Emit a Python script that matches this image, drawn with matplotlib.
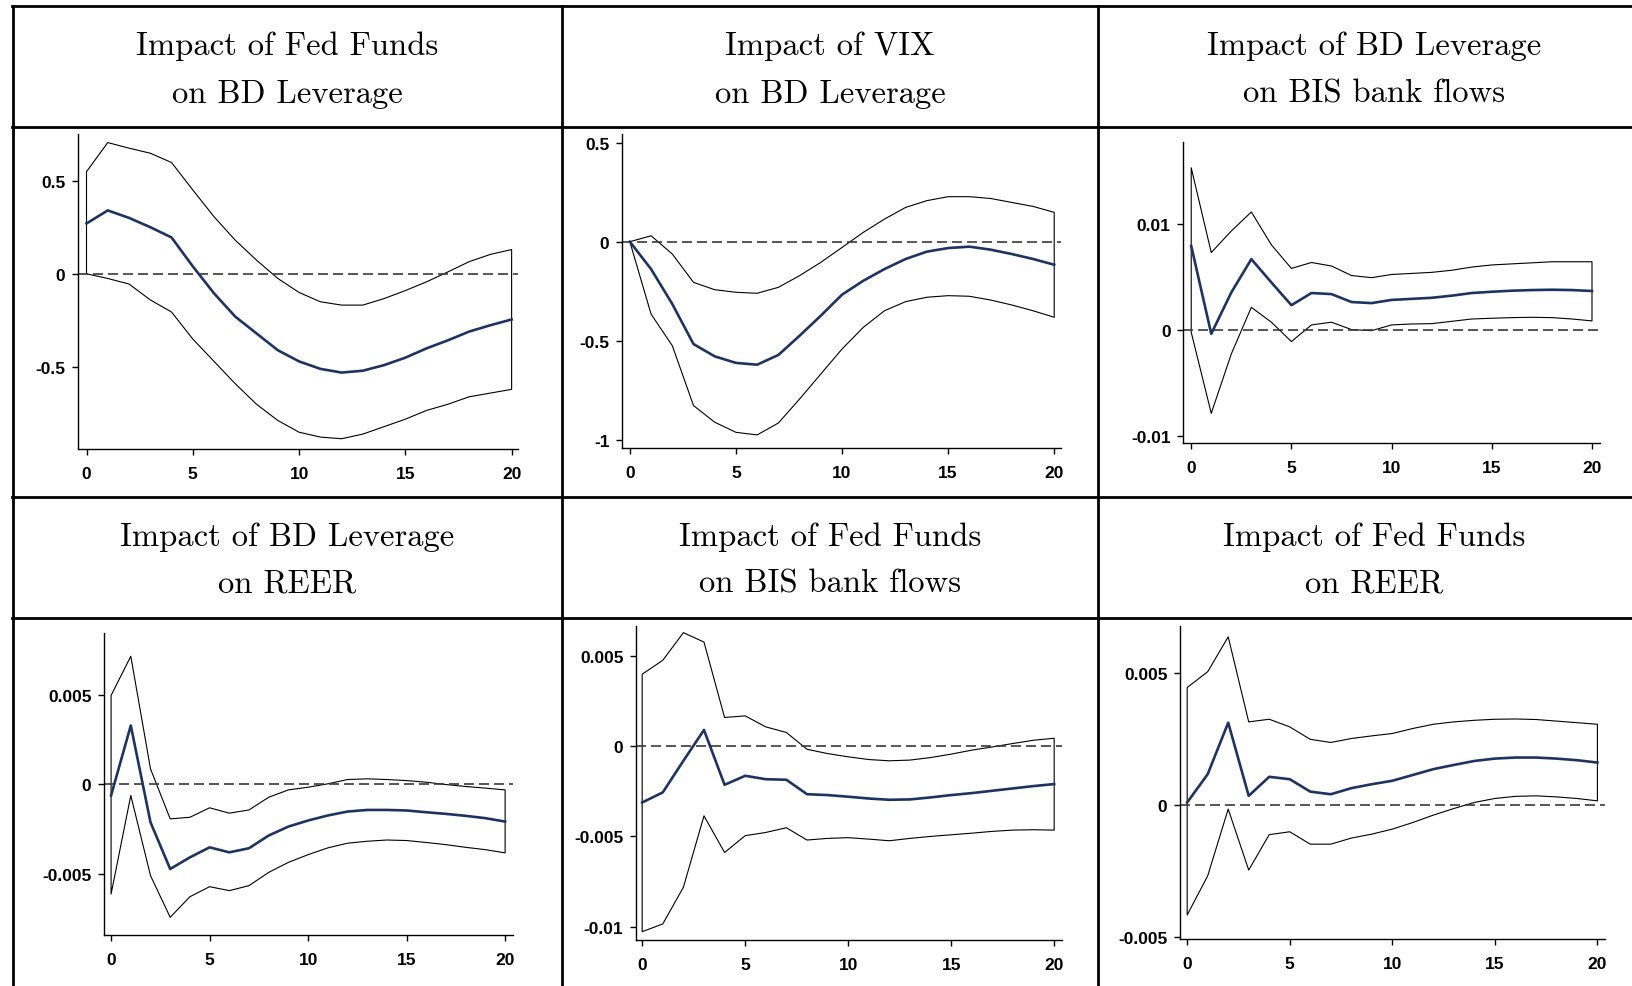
import numpy as np
import matplotlib.pyplot as plt
from matplotlib.lines import Line2D

W, H = 1632, 987
steps = np.arange(21)

# panel titles
titles = [
    "Impact of Fed Funds\non BD Leverage",
    "Impact of VIX\non BD Leverage",
    "Impact of BD Leverage\non BIS bank flows",
    "Impact of BD Leverage\non REER",
    "Impact of Fed Funds\non BIS bank flows",
    "Impact of Fed Funds\non REER",
]

# impulse responses (irf, upper band, lower band)
ff_bd_irf = [0.27, 0.34, 0.30, 0.25, 0.195, 0.04, -0.105, -0.23, -0.32, -0.41, -0.47,
             -0.51, -0.53, -0.52, -0.49, -0.45, -0.40, -0.357, -0.31, -0.276, -0.245]
ff_bd_hi = [0.548, 0.704, 0.674, 0.647, 0.597, 0.45, 0.306, 0.18, 0.073, -0.025, -0.10,
            -0.15, -0.168, -0.168, -0.133, -0.09, -0.043, 0.01, 0.065, 0.104, 0.13]
ff_bd_lo = [0.0, -0.025, -0.055, -0.14, -0.205, -0.35, -0.47, -0.59, -0.70, -0.787, -0.85,
            -0.876, -0.885, -0.86, -0.82, -0.78, -0.733, -0.70, -0.66, -0.64, -0.62]

vix_bd_irf = [0.0, -0.138, -0.314, -0.516, -0.578, -0.611, -0.62, -0.571, -0.474, -0.373, -0.267,
              -0.197, -0.138, -0.087, -0.05, -0.032, -0.025, -0.04, -0.062, -0.087, -0.116]
vix_bd_hi = [0.0, 0.03, -0.062, -0.205, -0.242, -0.255, -0.26, -0.23, -0.171, -0.104, -0.029,
             0.047, 0.114, 0.173, 0.207, 0.227, 0.227, 0.218, 0.198, 0.178, 0.148]
vix_bd_lo = [0.0, -0.365, -0.524, -0.826, -0.91, -0.961, -0.974, -0.914, -0.793, -0.667, -0.541,
             -0.432, -0.348, -0.302, -0.28, -0.272, -0.275, -0.294, -0.319, -0.348, -0.381]

bd_bis_irf = [0.0079, -0.0004, 0.0035, 0.00665, 0.00445, 0.0023, 0.00345, 0.00335, 0.0026, 0.0025, 0.0028,
              0.0029, 0.003, 0.0032, 0.00345, 0.00357, 0.00367, 0.00373, 0.00376, 0.00373, 0.00364]
bd_bis_hi = [0.01527, 0.00727, 0.0093, 0.0111, 0.008, 0.00577, 0.00633, 0.006, 0.0051, 0.0049, 0.0052,
             0.0053, 0.0054, 0.0056, 0.0059, 0.0061, 0.0062, 0.0063, 0.0064, 0.0064, 0.0064]
bd_bis_lo = [-0.00025, -0.0079, -0.0023, 0.0021, 0.0007, -0.00113, 0.00044, 0.0007, 0.0, -0.0001, 0.00044,
             0.00053, 0.00056, 0.00078, 0.001, 0.00107, 0.00113, 0.00116, 0.00113, 0.001, 0.00082]

bd_reer_irf = [-0.00063, 0.00328, -0.00213, -0.00474, -0.00409, -0.00353, -0.00381, -0.00358, -0.00287, -0.00237, -0.00203,
               -0.00175, -0.00153, -0.00144, -0.00144, -0.00147, -0.00157, -0.00166, -0.00177, -0.0019, -0.00209]
bd_reer_hi = [0.00496, 0.00715, 0.00086, -0.00194, -0.00185, -0.00132, -0.00162, -0.00144, -0.00073, -0.00032, -0.00017,
              0.00002, 0.00026, 0.0003, 0.00026, 0.0002, 0.00011, -0.00002, -0.00013, -0.00022, -0.00032]
bd_reer_lo = [-0.00614, -0.00063, -0.00511, -0.00744, -0.00629, -0.00573, -0.00595, -0.00567, -0.00493, -0.00437, -0.00394,
              -0.00356, -0.0033, -0.00319, -0.00312, -0.00315, -0.00326, -0.00338, -0.00353, -0.00366, -0.00384]

ff_bis_irf = [-0.00312, -0.00256, -0.00081, 0.0009, -0.00214, -0.00164, -0.00183, -0.00186, -0.00266, -0.00271, -0.0028,
              -0.0029, -0.00297, -0.00295, -0.00284, -0.00271, -0.0026, -0.00247, -0.00234, -0.00221, -0.0021]
ff_bis_hi = [0.00399, 0.00476, 0.00629, 0.00577, 0.00159, 0.00168, 0.00107, 0.00076, -0.00017, -0.00041, -0.00059,
             -0.00074, -0.00081, -0.00077, -0.00063, -0.00044, -0.00022, -0.00004, 0.00015, 0.00033, 0.00044]
ff_bis_lo = [-0.01028, -0.00985, -0.00782, -0.00386, -0.00589, -0.00496, -0.00478, -0.00452, -0.0052, -0.00511, -0.00507,
             -0.00515, -0.00524, -0.00511, -0.005, -0.00491, -0.00482, -0.00472, -0.00465, -0.00463, -0.00465]

ff_reer_irf = [0.00009, 0.00116, 0.00311, 0.00034, 0.00106, 0.00097, 0.0005, 0.0004, 0.00063, 0.00078, 0.00091,
               0.00113, 0.00135, 0.00151, 0.00166, 0.00175, 0.00179, 0.00179, 0.00175, 0.00169, 0.0016]
ff_reer_hi = [0.00444, 0.00504, 0.00636, 0.00314, 0.00324, 0.00295, 0.00248, 0.00236, 0.00251, 0.00261, 0.0027,
              0.00289, 0.00305, 0.00314, 0.0032, 0.00324, 0.00325, 0.00323, 0.00317, 0.00311, 0.00305]
ff_reer_lo = [-0.00417, -0.00269, -0.00016, -0.00247, -0.00113, -0.00102, -0.00149, -0.00149, -0.00126, -0.00111, -0.00092,
              -0.00067, -0.00039, -0.00014, 0.00009, 0.00024, 0.00032, 0.00034, 0.0003, 0.00024, 0.00015]

yticks = [[-0.5, 0, 0.5], [-1, -0.5, 0, 0.5], [-0.01, 0, 0.01],
          [-0.005, 0, 0.005], [-0.01, -0.005, 0, 0.005], [-0.005, 0, 0.005]]
yticklabels = [["-0.5", "0", "0.5"], ["-1", "-0.5", "0", "0.5"], ["-0.01", "0", "0.01"],
               ["-0.005", "0", "0.005"], ["-0.01", "-0.005", "0", "0.005"], ["-0.005", "0", "0.005"]]

series = [
    (ff_bd_irf, ff_bd_hi, ff_bd_lo),
    (vix_bd_irf, vix_bd_hi, vix_bd_lo),
    (bd_bis_irf, bd_bis_hi, bd_bis_lo),
    (bd_reer_irf, bd_reer_hi, bd_reer_lo),
    (ff_bis_irf, ff_bis_hi, ff_bis_lo),
    (ff_reer_irf, ff_reer_hi, ff_reer_lo),
]

# axes boxes in pixels: left, right, top, bottom
boxes = [(78, 518, 135, 450), (622, 1061, 135, 449), (1183, 1600, 143, 444),
         (104, 513, 634, 936), (636, 1062, 627, 941), (1180, 1605, 627, 940)]
xlims = [(-0.40, 20.3), (-0.37, 20.32), (-0.41, 20.4), (-0.36, 20.4), (-0.3, 20.38), (-0.35, 20.37)]
ylims = [(-0.94, 0.75), (-1.04, 0.543), (-0.0107, 0.0177), (-0.00843, 0.00845),
         (-0.01074, 0.00666), (-0.00508, 0.00677)]

fig = plt.figure(figsize=(W / 100, H / 100), dpi=100)
fig.patch.set_facecolor("white")

tick_font = dict(family="Liberation Sans", size=12.5, weight="bold")

for i, (irf, hi, lo) in enumerate(series):
    l, r, t, b = boxes[i]
    ax = fig.add_axes([l / W, 1 - b / H, (r - l) / W, (b - t) / H])
    ax.fill_between(steps, lo, hi, facecolor="none", edgecolor="black", linewidth=0.8)
    ax.axhline(0, color="#3a3a3a", linestyle=(0, (6, 3)), linewidth=1.2)
    ax.plot(steps, irf, color="#1f3361", linewidth=1.9)
    ax.set_xlim(*xlims[i])
    ax.set_ylim(*ylims[i])
    ax.set_xticks([0, 5, 10, 15, 20])
    ax.set_xticklabels(["0", "5", "10", "15", "20"], **tick_font)
    ax.set_yticks(yticks[i])
    ax.set_yticklabels(yticklabels[i], **tick_font)
    for s in ["top", "right"]:
        ax.spines[s].set_visible(False)
    for s in ["left", "bottom"]:
        ax.spines[s].set_linewidth(1.0)
    ax.tick_params(axis="y", length=4.5, width=1.0, pad=4.5)
    ax.tick_params(axis="x", length=4, width=1.0, pad=8)
    ax.patch.set_alpha(0)

# table frame
def hline(y, x0, x1):
    fig.add_artist(Line2D([x0 / W, x1 / W], [1 - y / H, 1 - y / H], color="black",
                          linewidth=2.0, transform=fig.transFigure))

def vline(x, y0, y1):
    fig.add_artist(Line2D([x / W, x / W], [1 - y0 / H, 1 - y1 / H], color="black",
                          linewidth=2.0, transform=fig.transFigure))

for y in [7, 128, 498, 619]:
    hline(y, 12, W)
for x in [13, 562, 1098]:
    vline(x, 7, H)

col_centers = [287, 830, 1374]
row_lines = [(46, 94), (537, 584)]
for i, title in enumerate(titles):
    cx = col_centers[i % 3]
    y1, y2 = row_lines[i // 3]
    line1, line2 = title.split("\n")
    fig.text(cx / W, 1 - y1 / H, line1, family="cmr10", size=23.5, ha="center", va="center")
    fig.text(cx / W, 1 - y2 / H, line2, family="cmr10", size=23.5, ha="center", va="center")

fig.savefig("out.png", dpi=100)
